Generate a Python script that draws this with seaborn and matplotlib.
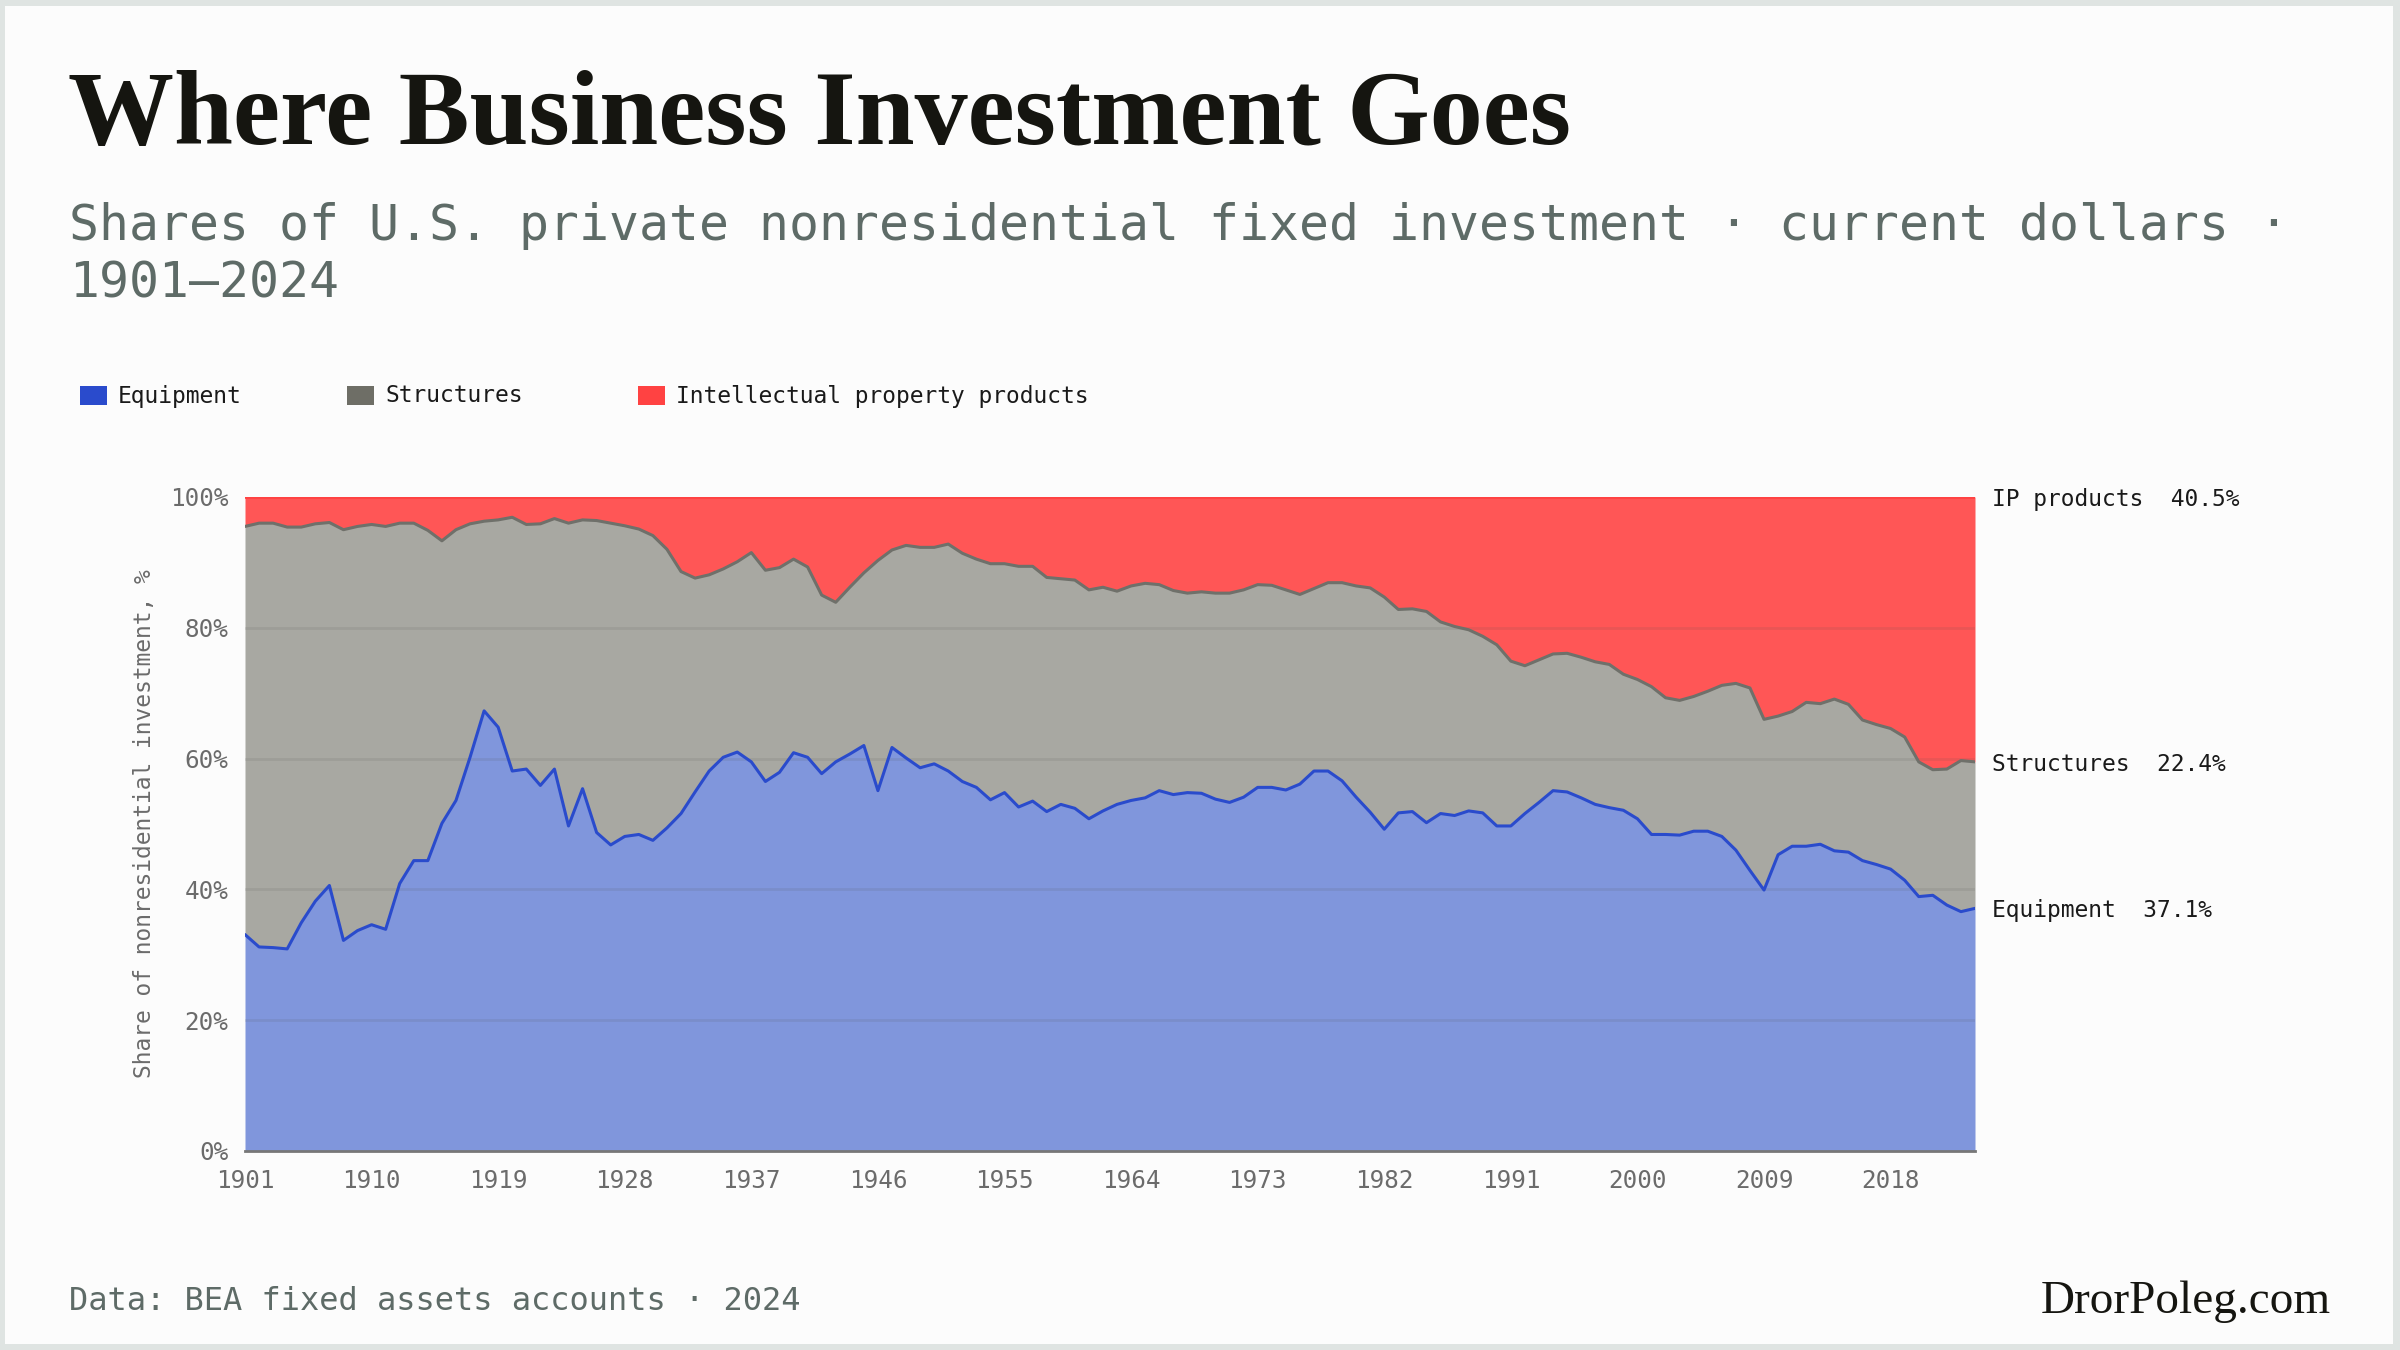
import numpy as np
import pandas as pd
import matplotlib
matplotlib.use("Agg")
import matplotlib.pyplot as plt
import seaborn as sns
from matplotlib.patches import Rectangle
from matplotlib.transforms import blended_transform_factory

# shares of private nonresidential fixed investment, %, 1901-2024
years = list(range(1901, 2025))
equipment = [
    33.1, 31.2, 31.1, 30.9, 34.9, 38.2, 40.6, 32.2, 33.7, 34.6,
    33.9, 40.9, 44.4, 44.4, 50.1, 53.6, 60.2, 67.3, 64.8, 58.1,
    58.4, 55.9, 58.4, 49.7, 55.4, 48.7, 46.8, 48.1, 48.4, 47.5,
    49.4, 51.6, 54.9, 58.1, 60.2, 61.0, 59.5, 56.5, 57.9, 60.9,
    60.2, 57.7, 59.5, 60.7, 62.0, 55.1, 61.7, 60.1, 58.6, 59.2,
    58.1, 56.5, 55.6, 53.7, 54.8, 52.6, 53.5, 51.9, 53.0, 52.4,
    50.8, 52.0, 53.0, 53.6, 54.0, 55.1, 54.5, 54.8, 54.7, 53.8,
    53.3, 54.1, 55.6, 55.6, 55.2, 56.1, 58.1, 58.1, 56.6, 54.1,
    51.8, 49.2, 51.7, 51.9, 50.2, 51.6, 51.3, 52.0, 51.7, 49.7,
    49.7, 51.6, 53.3, 55.1, 54.9, 54.0, 53.0, 52.5, 52.1, 50.8,
    48.4, 48.4, 48.3, 48.9, 48.9, 48.1, 46.0, 42.9, 39.9, 45.3,
    46.6, 46.6, 46.9, 45.9, 45.7, 44.4, 43.8, 43.1, 41.4, 38.9,
    39.1, 37.6, 36.6, 37.1,
]
structures = [
    62.4, 64.8, 64.9, 64.5, 60.5, 57.7, 55.5, 62.8, 61.8, 61.2,
    61.6, 55.1, 51.6, 50.5, 43.2, 41.4, 35.7, 29.0, 31.7, 38.8,
    37.4, 40.0, 38.3, 46.3, 41.1, 47.7, 49.2, 47.5, 46.7, 46.6,
    42.6, 37.0, 32.7, 30.0, 28.8, 29.1, 32.0, 32.3, 31.3, 29.6,
    29.1, 27.3, 24.4, 25.5, 26.4, 35.2, 30.2, 32.5, 33.7, 33.1,
    34.7, 34.9, 34.9, 36.1, 35.0, 36.8, 35.9, 35.8, 34.5, 34.9,
    35.0, 34.2, 32.6, 32.8, 32.8, 31.5, 31.2, 30.5, 30.8, 31.5,
    32.0, 31.7, 31.0, 30.9, 30.6, 29.0, 27.9, 28.8, 30.3, 32.3,
    34.3, 35.5, 31.1, 31.0, 32.3, 29.3, 28.9, 27.7, 27.0, 27.7,
    25.2, 22.6, 21.8, 20.9, 21.2, 21.5, 21.8, 21.9, 20.8, 21.3,
    22.6, 20.9, 20.6, 20.6, 21.4, 23.1, 25.5, 27.9, 26.1, 21.2,
    20.6, 22.0, 21.5, 23.2, 22.6, 21.5, 21.4, 21.5, 21.9, 20.6,
    19.2, 20.8, 23.1, 22.4,
]
ip_products = [
    4.5, 4.0, 4.0, 4.6, 4.6, 4.1, 3.9, 5.0, 4.5, 4.2,
    4.5, 4.0, 4.0, 5.1, 6.7, 5.0, 4.1, 3.7, 3.5, 3.1,
    4.2, 4.1, 3.3, 4.0, 3.5, 3.6, 4.0, 4.4, 4.9, 5.9,
    8.0, 11.4, 12.4, 11.9, 11.0, 9.9, 8.5, 11.2, 10.8, 9.5,
    10.7, 15.0, 16.1, 13.8, 11.6, 9.7, 8.1, 7.4, 7.7, 7.7,
    7.2, 8.6, 9.5, 10.2, 10.2, 10.6, 10.6, 12.3, 12.5, 12.7,
    14.2, 13.8, 14.4, 13.6, 13.2, 13.4, 14.3, 14.7, 14.5, 14.7,
    14.7, 14.2, 13.4, 13.5, 14.2, 14.9, 14.0, 13.1, 13.1, 13.6,
    13.9, 15.3, 17.2, 17.1, 17.5, 19.1, 19.8, 20.3, 21.3, 22.6,
    25.1, 25.8, 24.9, 24.0, 23.9, 24.5, 25.2, 25.6, 27.1, 27.9,
    29.0, 30.7, 31.1, 30.5, 29.7, 28.8, 28.5, 29.2, 34.0, 33.5,
    32.8, 31.4, 31.6, 30.9, 31.7, 34.1, 34.8, 35.4, 36.7, 40.5,
    41.7, 41.6, 40.3, 40.5,
]
series_names = ["Equipment", "Structures", "Intellectual property products"]
end_labels = ["Equipment", "Structures", "IP products"]
x_ticks = list(range(1901, 2019, 9))
y_ticks = [0, 20, 40, 60, 80, 100]

df = pd.DataFrame({"year": years, "equipment": equipment,
                   "structures": structures, "ip": ip_products})
df["top_eq"] = df["equipment"]
df["top_st"] = df["equipment"] + df["structures"]
df["top_ip"] = df["top_st"] + df["ip"]

sns.set_theme(style="white")
plt.rcParams["font.family"] = ["DejaVu Sans Mono", "DejaVu Sans"]

BLUE, BLUE_FILL = "#2a4bcc", "#8096dc"
GREY, GREY_FILL = "#6f706a", "#a8a8a2"
RED, RED_FILL = "#ff4242", "#ff5656"
MUTED = "#5e6b67"

W, H = 2400, 1350
fig = plt.figure(figsize=(24, 13.5), dpi=100)
fig.patch.set_facecolor("#dfe4e2")
fig.add_artist(Rectangle((5 / W, 6 / H), 1 - 12 / W, 1 - 12 / H,
                         transform=fig.transFigure, facecolor="#fcfcfc",
                         edgecolor="none", zorder=-10))

def fx(px):
    return px / W

def fy(py):
    return 1 - py / H

ax = fig.add_axes([fx(245), fy(1151), 1730 / W, 654 / H])
ax.set_facecolor("none")

# stacked areas
ax.fill_between(df["year"], 0, df["top_eq"], color=BLUE_FILL, lw=0, zorder=1)
ax.fill_between(df["year"], df["top_eq"], df["top_st"], color=GREY_FILL, lw=0, zorder=1)
ax.fill_between(df["year"], df["top_st"], df["top_ip"], color=RED_FILL, lw=0, zorder=1)

for yv in y_ticks[1:-1]:
    ax.axhline(yv, color="#555555", alpha=0.13, lw=2, zorder=2)

sns.lineplot(data=df, x="year", y="top_ip", color=RED, lw=2, ax=ax, zorder=3)
sns.lineplot(data=df, x="year", y="top_st", color=GREY, lw=2.2, ax=ax, zorder=3)
sns.lineplot(data=df, x="year", y="top_eq", color=BLUE, lw=2.2, ax=ax, zorder=4)

ax.set_xlim(1901, 2024)
ax.set_ylim(0, 100)
ax.set_xticks(x_ticks)
ax.set_xticklabels([str(t) for t in x_ticks])
ax.set_yticks(y_ticks)
ax.set_yticklabels([f"{t}%" for t in y_ticks])
ax.tick_params(axis="both", length=0, labelsize=17.5, labelcolor="#6b6b6b")
ax.tick_params(axis="x", pad=13)
ax.tick_params(axis="y", pad=12)
ax.set_xlabel("")
ax.set_ylabel("Share of nonresidential investment, %", fontsize=16.5,
              color="#6b6b6b", labelpad=10)
for side in ["top", "right", "left"]:
    ax.spines[side].set_visible(False)
ax.spines["bottom"].set_color("#777777")
ax.spines["bottom"].set_linewidth(2)
ax.spines["bottom"].set_zorder(5)

# end-of-line labels
tr = blended_transform_factory(ax.transAxes, ax.transData)
last = df.iloc[-1]
ends = [
    (last["top_eq"], f"{end_labels[0]}  {last['equipment']:.1f}%"),
    (last["top_st"], f"{end_labels[1]}  {last['structures']:.1f}%"),
    (last["top_ip"], f"{end_labels[2]}  {last['ip']:.1f}%"),
]
for yv, txt in ends:
    ax.text(1.01, yv - 0.4, txt, transform=tr, ha="left", va="center",
            fontsize=16.5, color="#1a1a1a", clip_on=False)

# title and subtitle
fig.text(fx(68), fy(144), "Where Business Investment Goes",
         family=["Liberation Serif", "DejaVu Serif"], fontweight="bold",
         fontsize=76.3, color="#151510", va="baseline", ha="left")
fig.text(fx(69), fy(240),
         "Shares of U.S. private nonresidential fixed investment \u00b7 current dollars \u00b7",
         fontsize=35.8, color=MUTED, va="baseline", ha="left")
fig.text(fx(69), fy(298), "1901\u20132024",
         fontsize=35.8, color=MUTED, va="baseline", ha="left")

# legend
legend_x = [80, 347, 638]
for (lx, name, col) in zip(legend_x, series_names, [BLUE, "#6e6e66", RED]):
    fig.add_artist(Rectangle((fx(lx), fy(405)), 27 / W, 19 / H,
                             transform=fig.transFigure, facecolor=col,
                             edgecolor="none"))
    fig.text(fx(lx + 38), fy(396), name, fontsize=16.5, color="#1a1a1a",
             va="center", ha="left")

# footer
fig.text(fx(69), fy(1301), "Data: BEA fixed assets accounts \u00b7 2024",
         fontsize=23, color=MUTED, va="center", ha="left")
fig.text(fx(2331), fy(1302), "DrorPoleg.com",
         family=["Liberation Serif", "DejaVu Serif"], fontsize=34,
         color="#151510", va="center", ha="right")

fig.savefig("out.png", dpi=100, facecolor=fig.get_facecolor())
